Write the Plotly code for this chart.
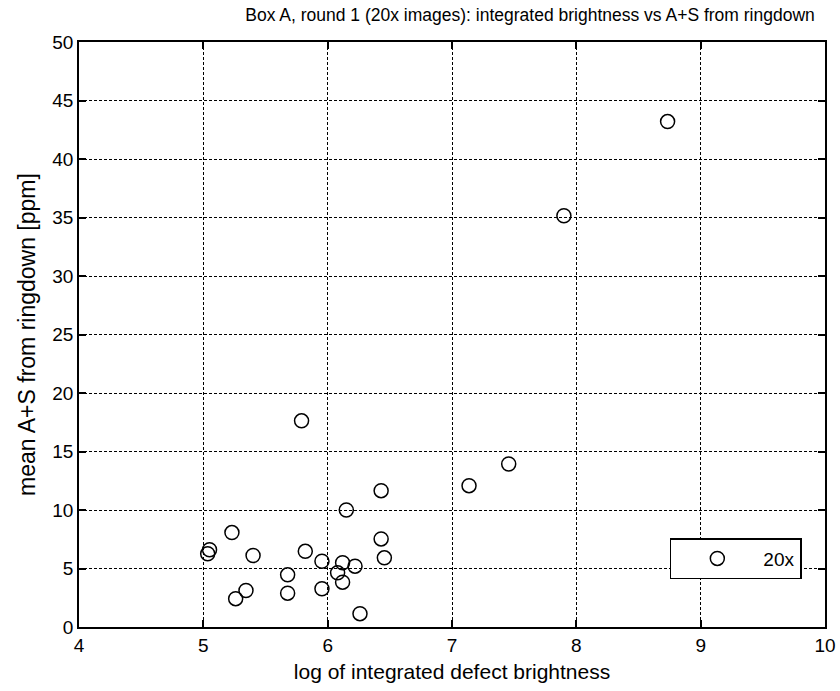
import plotly.graph_objects as go

title = "Box A, round 1 (20x images): integrated brightness vs A+S from ringdown"
x_label = "log of integrated defect brightness"
y_label = "mean A+S from ringdown [ppm]"
series_name = "20x"

log_brightness = [5.79, 6.43, 6.15, 5.23, 6.43, 5.05, 5.035, 5.40, 5.82, 6.456,
                  5.954, 6.12, 6.22, 5.678, 6.08, 6.12, 5.343, 5.26, 5.678, 5.954,
                  6.26, 7.137, 7.456, 7.90, 8.734]
mean_as = [17.62, 11.65, 10.0, 8.07, 7.53, 6.6, 6.26, 6.11, 6.47, 5.91,
           5.62, 5.49, 5.2, 4.46, 4.63, 3.83, 3.12, 2.42, 2.89, 3.27,
           1.14, 12.08, 13.93, 35.15, 43.2]

x_ticks = [4, 5, 6, 7, 8, 9, 10]
y_ticks = [0, 5, 10, 15, 20, 25, 30, 35, 40, 45, 50]

fig = go.Figure()
fig.add_trace(go.Scatter(
    x=log_brightness, y=mean_as, mode="markers", name=series_name,
    marker=dict(symbol="circle-open", size=14, color="black", line=dict(width=1.5)),
))

axis_common = dict(
    showline=True, linecolor="black", linewidth=1.5, mirror="ticks",
    ticks="inside", ticklen=7, tickwidth=1.5, tickcolor="black",
    showgrid=True, gridcolor="black", griddash="3px,2px", gridwidth=1,
    zeroline=False, tickfont=dict(size=19, color="black"), automargin=False,
)

fig.update_xaxes(range=[4, 10], tickvals=x_ticks,
                 title=dict(text=x_label, font=dict(size=21, color="black"), standoff=10),
                 **axis_common)
fig.update_yaxes(range=[0, 50], tickvals=y_ticks,
                 title=dict(text=y_label, font=dict(size=23, color="black"), standoff=10),
                 **axis_common)

fig.update_layout(
    width=840, height=691,
    margin=dict(l=79, r=15, t=42, b=64),
    paper_bgcolor="white", plot_bgcolor="white",
    font=dict(family="Liberation Sans, Arial, sans-serif", color="black"),
    title=dict(text=title, x=0.631, xanchor="center", y=0.978, yanchor="middle",
               font=dict(size=17.5, color="black"), automargin=False),
    showlegend=True,
    legend=dict(x=0.792, y=0.152, xanchor="left", yanchor="top",
                bordercolor="black", borderwidth=1.5, bgcolor="white",
                font=dict(size=19, color="black"), entrywidth=158, itemwidth=82),
)

fig.write_html("out.html", config={"displayModeBar": False},
               post_script="document.body.style.margin='0';document.body.style.overflow='hidden';")
